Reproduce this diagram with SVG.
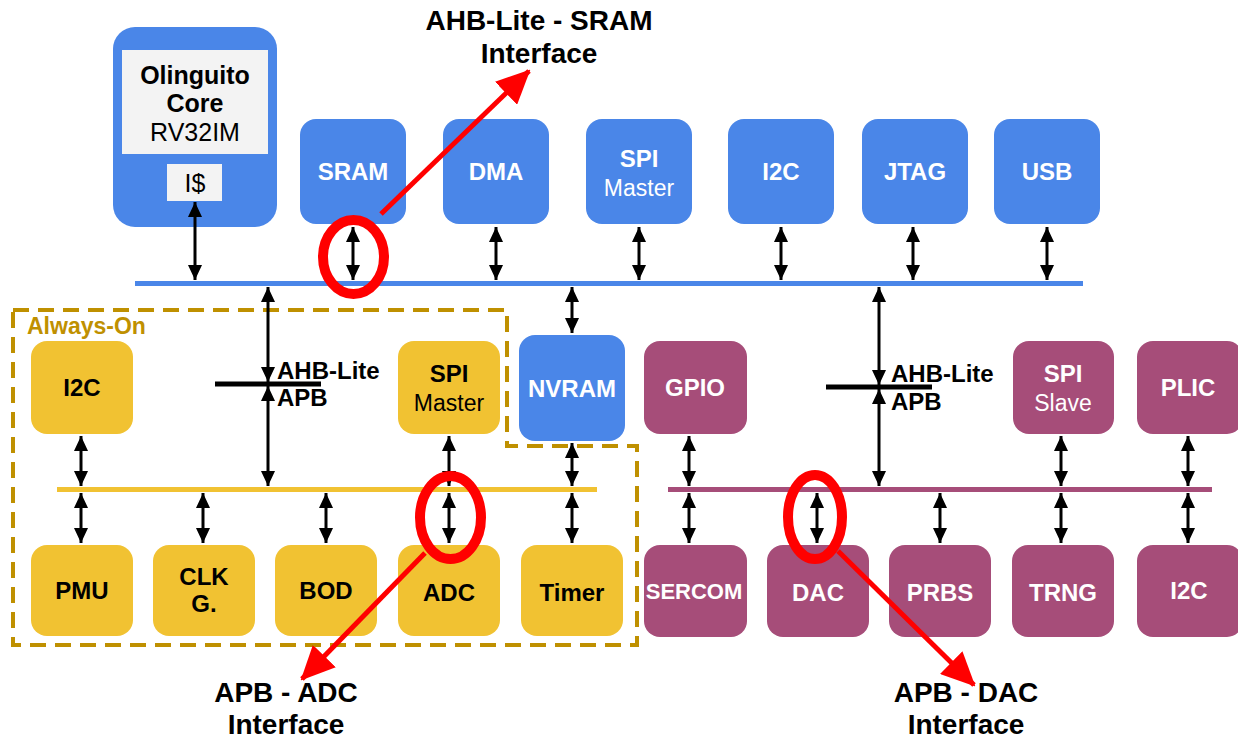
<svg xmlns="http://www.w3.org/2000/svg" width="1238" height="738" viewBox="0 0 1238 738">
<defs>
<marker id="ah" viewBox="0 0 15 14" refX="15" refY="7" markerWidth="15" markerHeight="14" markerUnits="userSpaceOnUse" orient="auto-start-reverse"><path d="M0,0 L15,7 L0,14 z" fill="#000"/></marker>
<marker id="rh" viewBox="0 0 34 32" refX="32" refY="16" markerWidth="34" markerHeight="32" markerUnits="userSpaceOnUse" orient="auto"><path d="M0,0 L34,16 L0,32 z" fill="#ff0000"/></marker>
<style>
.b{fill:#4a86e8}.y{fill:#f1c232}.p{fill:#a64d79}
text{font-family:"Liberation Sans",Arial,sans-serif;text-anchor:middle}
.w{fill:#fff;font-weight:bold;font-size:24px}
.wn{fill:#fff;font-size:23px}
.k{fill:#000;font-weight:bold;font-size:24px}
.kn{fill:#000;font-size:23px}
.ck{fill:#000;font-weight:bold;font-size:25px}
.ckn{fill:#000;font-size:25px}
.lab{fill:#000;font-weight:bold;font-size:24px;text-anchor:start}
.cap{fill:#000;font-weight:bold;font-size:28px}
.c{stroke:#000;stroke-width:3;fill:none;marker-start:url(#ah);marker-end:url(#ah)}
.red{stroke:#ff0000;stroke-width:10;fill:none}
.redl{stroke:#ff0000;stroke-width:5;fill:none;marker-end:url(#rh)}
</style>
</defs>
<rect width="1238" height="738" fill="#fff"/>
<!-- Always-on region -->
<path d="M13,310 H507 V446 H637 V645 H13 Z" fill="none" stroke="#bf9000" stroke-width="4" stroke-dasharray="16,9"/>
<text x="27" y="334" style="font-family:'Liberation Sans',Arial,sans-serif;font-weight:bold;font-size:23px;fill:#bf9000;text-anchor:start">Always-On</text>
<!-- buses -->
<g id="buses">
<rect x="135" y="281" width="948" height="5" fill="#4a86e8"/>
<rect x="57" y="487" width="540" height="5" fill="#f1c232"/>
<rect x="668" y="487" width="544" height="5" fill="#a64d79"/>
</g>
<!-- nodes -->
<g id="core">
<rect x="113" y="27" width="164" height="200" rx="22" class="b"/>
<rect x="122" y="50" width="146" height="104" fill="#f3f3f3"/>
<text x="195" y="84" class="ck">Olinguito</text>
<text x="195" y="112" class="ck">Core</text>
<text x="195" y="141" class="ckn">RV32IM</text>
<rect x="167" y="164" width="55" height="37" fill="#f3f3f3"/>
<text x="195" y="192" class="ckn">I$</text>
</g>
<g id="sram"><rect x="300" y="119" width="106" height="105" rx="16" class="b"/><text x="353" y="180" class="w">SRAM</text></g>
<g id="dma"><rect x="443" y="119" width="106" height="105" rx="16" class="b"/><text x="496" y="180" class="w">DMA</text></g>
<g id="spim-top"><rect x="586" y="119" width="106" height="105" rx="16" class="b"/><text x="639" y="167" class="w">SPI</text><text x="639" y="196" class="wn">Master</text></g>
<g id="i2c-top"><rect x="728" y="119" width="106" height="105" rx="16" class="b"/><text x="781" y="180" class="w">I2C</text></g>
<g id="jtag"><rect x="862" y="119" width="106" height="105" rx="16" class="b"/><text x="915" y="180" class="w">JTAG</text></g>
<g id="usb"><rect x="994" y="119" width="106" height="105" rx="16" class="b"/><text x="1047" y="180" class="w">USB</text></g>
<g id="nvram"><rect x="519" y="335" width="106" height="106" rx="16" class="b"/><text x="572" y="397" class="w">NVRAM</text></g>

<g id="ao-i2c"><rect x="31" y="341" width="102" height="93" rx="16" class="y"/><text x="82" y="396" class="k">I2C</text></g>
<g id="ao-spim"><rect x="398" y="341" width="102" height="93" rx="16" class="y"/><text x="449" y="382" class="k">SPI</text><text x="449" y="411" class="kn">Master</text></g>
<g id="pmu"><rect x="31" y="545" width="102" height="91" rx="16" class="y"/><text x="82" y="599" class="k">PMU</text></g>
<g id="clkg"><rect x="153" y="545" width="102" height="91" rx="16" class="y"/><text x="204" y="585" class="k">CLK</text><text x="204" y="612" class="k">G.</text></g>
<g id="bod"><rect x="275" y="545" width="102" height="91" rx="16" class="y"/><text x="326" y="599" class="k">BOD</text></g>
<g id="adc"><rect x="398" y="545" width="102" height="91" rx="16" class="y"/><text x="449" y="601" class="k">ADC</text></g>
<g id="timer"><rect x="521" y="545" width="102" height="91" rx="16" class="y"/><text x="572" y="601" class="k">Timer</text></g>

<g id="gpio"><rect x="644" y="341" width="103" height="93" rx="16" class="p"/><text x="695" y="396" class="w">GPIO</text></g>
<g id="spis"><rect x="1013" y="341" width="101" height="93" rx="16" class="p"/><text x="1063" y="382" class="w">SPI</text><text x="1063" y="411" class="wn">Slave</text></g>
<g id="plic"><rect x="1137" y="341" width="106" height="93" rx="16" class="p"/><text x="1188" y="396" class="w">PLIC</text></g>
<g id="sercom"><rect x="644" y="545" width="103" height="92" rx="16" class="p"/><text x="694" y="599" class="w" style="font-size:22px">SERCOM</text></g>
<g id="dac"><rect x="767" y="545" width="102" height="92" rx="16" class="p"/><text x="818" y="601" class="w">DAC</text></g>
<g id="prbs"><rect x="889" y="545" width="102" height="92" rx="16" class="p"/><text x="940" y="601" class="w">PRBS</text></g>
<g id="trng"><rect x="1012" y="545" width="102" height="92" rx="16" class="p"/><text x="1063" y="601" class="w">TRNG</text></g>
<g id="i2c-p"><rect x="1137" y="545" width="106" height="92" rx="16" class="p"/><text x="1189" y="599" class="w">I2C</text></g>

<!-- connectors -->
<g id="connectors">
<line x1="195" y1="202" x2="195" y2="280" class="c"/>
<line x1="353" y1="227" x2="353" y2="280" class="c"/>
<line x1="496" y1="227" x2="496" y2="280" class="c"/>
<line x1="639" y1="227" x2="639" y2="280" class="c"/>
<line x1="781" y1="227" x2="781" y2="280" class="c"/>
<line x1="913" y1="227" x2="913" y2="280" class="c"/>
<line x1="1047" y1="227" x2="1047" y2="280" class="c"/>
<line x1="572" y1="287" x2="572" y2="333" class="c"/>
<!-- left bridge -->
<line x1="268" y1="287" x2="268" y2="382" class="c"/>
<line x1="268" y1="386" x2="268" y2="486" class="c"/>
<line x1="215" y1="384" x2="321" y2="384" stroke="#000" stroke-width="5"/>
<!-- right bridge -->
<line x1="879" y1="287" x2="879" y2="385" class="c"/>
<line x1="879" y1="389" x2="879" y2="486" class="c"/>
<line x1="826" y1="387" x2="932" y2="387" stroke="#000" stroke-width="5"/>
<!-- yellow -->
<line x1="81" y1="436" x2="81" y2="486" class="c"/>
<line x1="449" y1="436" x2="449" y2="486" class="c"/>
<line x1="572" y1="443" x2="572" y2="486" class="c"/>
<line x1="81" y1="493" x2="81" y2="543" class="c"/>
<line x1="203" y1="493" x2="203" y2="543" class="c"/>
<line x1="326" y1="493" x2="326" y2="543" class="c"/>
<line x1="449" y1="493" x2="449" y2="543" class="c"/>
<line x1="572" y1="493" x2="572" y2="543" class="c"/>
<!-- purple -->
<line x1="689" y1="436" x2="689" y2="486" class="c"/>
<line x1="1061" y1="436" x2="1061" y2="486" class="c"/>
<line x1="1188" y1="436" x2="1188" y2="486" class="c"/>
<line x1="689" y1="493" x2="689" y2="543" class="c"/>
<line x1="817" y1="493" x2="817" y2="543" class="c"/>
<line x1="940" y1="493" x2="940" y2="543" class="c"/>
<line x1="1061" y1="493" x2="1061" y2="543" class="c"/>
<line x1="1188" y1="493" x2="1188" y2="543" class="c"/>
</g>
<text x="277" y="379" class="lab">AHB-Lite</text>
<text x="277" y="406" class="lab">APB</text>
<text x="891" y="382" class="lab">AHB-Lite</text>
<text x="891" y="410" class="lab">APB</text>
<!-- red highlights -->
<g id="highlights">
<ellipse cx="353.5" cy="257" rx="30.5" ry="37" class="red"/>
<line x1="381" y1="214" x2="529" y2="71" class="redl"/>
<ellipse cx="450.5" cy="517.5" rx="30.5" ry="41.5" class="red"/>
<line x1="425" y1="553" x2="302" y2="679" class="redl"/>
<ellipse cx="815" cy="517" rx="27" ry="42" class="red"/>
<line x1="838" y1="551" x2="974" y2="685" class="redl"/>
</g>
<text x="539" y="30" class="cap">AHB-Lite - SRAM</text>
<text x="539" y="63" class="cap">Interface</text>
<text x="286" y="702" class="cap">APB - ADC</text>
<text x="286" y="734" class="cap">Interface</text>
<text x="966" y="702" class="cap">APB - DAC</text>
<text x="966" y="734" class="cap">Interface</text>
</svg>
